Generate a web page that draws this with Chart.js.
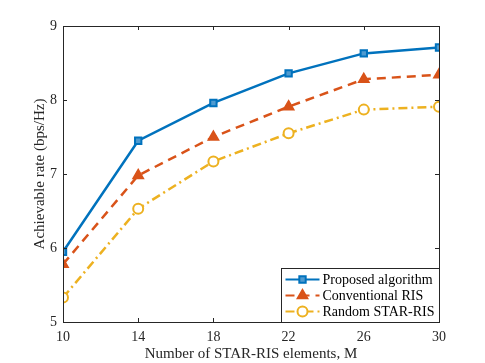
<!DOCTYPE html>
<html>
<head>
<meta charset="utf-8">
<script src="https://cdn.jsdelivr.net/npm/chart.js@4"></script>
<style>
  html, body { margin: 0; padding: 0; background: #fff; }
  #wrap { width: 485px; height: 363px; }
</style>
</head>
<body>
<div id="wrap"><canvas id="rateChart" width="485" height="363"></canvas></div>
<script>
// --- data ---
const elements = [10, 14, 18, 22, 26, 30];
const proposed = [5.95, 7.45, 7.96, 8.36, 8.63, 8.71];
const conventional = [5.78, 6.98, 7.50, 7.91, 8.28, 8.34];
const randomStar = [5.33, 6.53, 7.17, 7.55, 7.87, 7.91];
const seriesNames = ['Proposed algorithm', 'Conventional RIS', 'Random STAR-RIS'];
const xTicks = [10, 14, 18, 22, 26, 30];
const yTicks = [5, 6, 7, 8, 9];

const FONT = "'Liberation Serif', 'Times New Roman', serif";
const AXIS = '#262626';

const toPts = vals => elements.map((x, i) => ({ x: x, y: vals[i] }));

// MATLAB-style box + inward ticks
const boxPlugin = {
    id: 'boxTicks',
    afterDatasetsDraw(chart) {
        const { ctx, chartArea: a, scales: { x, y } } = chart;
        ctx.save();
        ctx.strokeStyle = AXIS;
        ctx.lineWidth = 1;
        ctx.beginPath();
        ctx.rect(Math.round(a.left) + 0.5, Math.round(a.top) + 0.5,
                 Math.round(a.right - a.left), Math.round(a.bottom - a.top));
        ctx.stroke();
        ctx.beginPath();
        xTicks.forEach(v => {
            const px = Math.round(x.getPixelForValue(v)) + 0.5;
            ctx.moveTo(px, a.bottom); ctx.lineTo(px, a.bottom - 4);
            ctx.moveTo(px, a.top); ctx.lineTo(px, a.top + 4);
        });
        yTicks.forEach(v => {
            const py = Math.round(y.getPixelForValue(v)) + 0.5;
            ctx.moveTo(a.left, py); ctx.lineTo(a.left + 4, py);
            ctx.moveTo(a.right, py); ctx.lineTo(a.right - 4, py);
        });
        ctx.stroke();
        ctx.restore();
    }
};

// legend box in lower right corner
const legendPlugin = {
    id: 'innerLegend',
    afterDraw(chart) {
        const { ctx, chartArea: a } = chart;
        const w = 158, h = 54;
        const bx = Math.round(a.right - w) + 0.5, by = Math.round(a.bottom - h) + 0.5;
        ctx.save();
        ctx.fillStyle = '#fff';
        ctx.fillRect(bx, by, w, h);
        ctx.strokeStyle = AXIS;
        ctx.lineWidth = 1;
        ctx.strokeRect(bx, by, w, h);
        ctx.font = '14px ' + FONT;
        ctx.textBaseline = 'middle';
        chart.data.datasets.forEach((ds, i) => {
            const cy = by + 11 + i * 16;
            const x0 = bx + 4, x1 = bx + 38;
            ctx.strokeStyle = ds.borderColor;
            ctx.lineWidth = 2;
            ctx.setLineDash(ds.borderDash || []);
            ctx.beginPath();
            ctx.moveTo(x0, cy); ctx.lineTo(x1, cy);
            ctx.stroke();
            ctx.setLineDash([]);
            ctx.fillStyle = ds.pointBackgroundColor;
            ctx.strokeStyle = ds.borderColor;
            ctx.lineWidth = ds.pointBorderWidth;
            Chart.helpers.drawPoint(ctx, {
                pointStyle: ds.pointStyle,
                radius: ds.pointRadius,
                borderWidth: ds.pointBorderWidth
            }, (x0 + x1) / 2, cy);
            ctx.fillStyle = '#000';
            ctx.fillText(ds.label, x1 + 3, cy + 1);
        });
        ctx.restore();
    }
};

new Chart(document.getElementById('rateChart'), {
    type: 'line',
    data: {
        datasets: [{
            label: seriesNames[0],
            data: toPts(proposed),
            borderColor: '#0072BD',
            borderWidth: 2.5,
            pointStyle: 'rect',
            pointRadius: 4.5,
            pointBorderWidth: 2,
            pointBackgroundColor: '#4f9bd0'
        }, {
            label: seriesNames[1],
            data: toPts(conventional),
            borderColor: '#D95319',
            borderWidth: 2.5,
            borderDash: [9, 6],
            pointStyle: 'triangle',
            pointRadius: 6,
            pointBorderWidth: 1.5,
            pointBackgroundColor: '#D95319'
        }, {
            label: seriesNames[2],
            data: toPts(randomStar),
            borderColor: '#EDB120',
            borderWidth: 2.5,
            borderDash: [9, 4, 2, 4],
            pointStyle: 'circle',
            pointRadius: 5,
            pointBorderWidth: 2,
            pointBackgroundColor: '#ffffff'
        }]
    },
    options: {
        responsive: false,
        animation: false,
        layout: { padding: { top: 26, right: 46, left: 28, bottom: 0 } },
        plugins: { legend: { display: false }, tooltip: { enabled: false } },
        elements: { line: { tension: 0 } },
        scales: {
            x: {
                type: 'linear',
                min: 10, max: 30,
                afterBuildTicks: s => { s.ticks = xTicks.map(v => ({ value: v })); },
                afterFit: s => { s.height = 41; },
                grid: { display: false, drawTicks: false },
                border: { display: false },
                ticks: { color: '#262626', font: { family: FONT, size: 14 }, padding: 7, maxRotation: 0 },
                title: { display: true, text: 'Number of STAR-RIS elements, M', color: '#262626',
                         font: { family: FONT, size: 15 }, padding: { top: 0, bottom: 0 } }
            },
            y: {
                min: 5, max: 9,
                afterBuildTicks: s => { s.ticks = yTicks.map(v => ({ value: v })); },
                afterFit: s => { s.width = 35; },
                grid: { display: false, drawTicks: false },
                border: { display: false },
                ticks: { color: '#262626', font: { family: FONT, size: 14 }, padding: 6 },
                title: { display: true, text: 'Achievable rate (bps/Hz)', color: '#262626',
                         font: { family: FONT, size: 15 }, padding: { top: 3, bottom: 0 } }
            }
        }
    },
    plugins: [boxPlugin, legendPlugin]
});
</script>
</body>
</html>
